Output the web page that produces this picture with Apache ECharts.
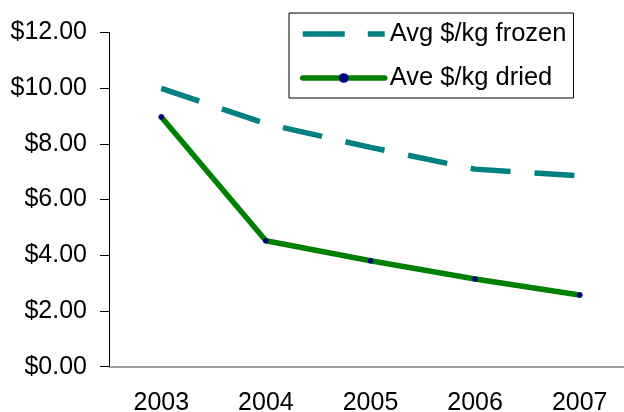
<!DOCTYPE html>
<html>
<head>
<meta charset="utf-8">
<script src="https://cdn.jsdelivr.net/npm/echarts@6/dist/echarts.min.js"></script>
<style>html,body{margin:0;padding:0;background:#fff;}#c{width:624px;height:412px;}</style>
</head>
<body>
<div id="c"></div>
<script>
var years = ['2003', '2004', '2005', '2006', '2007'];
var frozen = [9.99, 8.72, 7.87, 7.09, 6.85];
var dried = [8.96, 4.52, 3.80, 3.15, 2.57];
var yTicks = { min: 0, max: 12, interval: 2 };

var chart = echarts.init(document.getElementById('c'), null, { renderer: 'canvas' });
var font = 'Liberation Sans, Arial, sans-serif';
chart.setOption({
  animation: false,
  backgroundColor: '#fff',
  grid: { left: 109, right: -8, top: 32.3, bottom: 45.3, containLabel: false, outerBoundsMode: 'none' },
  legend: {
    orient: 'vertical',
    left: 289,
    top: 13,
    padding: [6, 7, 5, 11],
    itemGap: 14,
    itemWidth: 82,
    itemHeight: 12,
    borderColor: '#000',
    borderWidth: 1,
    backgroundColor: '#fff',
    textStyle: { fontFamily: font, fontSize: 25.5, color: '#000', lineHeight: 30 },
    data: [
      { name: 'Avg $/kg frozen', itemStyle: { opacity: 0 },
        lineStyle: { color: '#008080', width: 5.5, type: [42, 23], cap: 'butt', opacity: 1 } },
      { name: 'Ave $/kg dried', itemStyle: { color: '#000080' },
        lineStyle: { color: '#008000', width: 5.5, cap: 'round', opacity: 1 } }
    ]
  },
  xAxis: {
    type: 'category',
    data: years,
    boundaryGap: true,
    axisLine: { lineStyle: { color: '#808080', width: 1.5 } },
    axisTick: { inside: false, length: 7, lineStyle: { color: '#000' } },
    axisLabel: { fontFamily: font, fontSize: 25, color: '#000', margin: 24 },
    splitLine: { show: false }
  },
  yAxis: {
    type: 'value',
    min: yTicks.min, max: yTicks.max, interval: yTicks.interval,
    axisLine: { show: true, lineStyle: { color: '#000' } },
    axisTick: { show: true, inside: false, length: 9, lineStyle: { color: '#000' } },
    axisLabel: {
      fontFamily: font, fontSize: 25, color: '#000', margin: 22,
      formatter: function (v) { return '$' + v.toFixed(2); }
    },
    splitLine: { show: false }
  },
  series: [
    {
      name: 'Avg $/kg frozen',
      type: 'line',
      data: frozen,
      symbol: 'none',
      itemStyle: { color: '#008080' },
      lineStyle: { color: '#008080', width: 5.5, type: [40, 24], cap: 'butt' }
    },
    {
      name: 'Ave $/kg dried',
      type: 'line',
      data: dried,
      symbol: 'circle',
      symbolSize: 5.5,
      itemStyle: { color: '#000080' },
      lineStyle: { color: '#008000', width: 5.5, cap: 'round', join: 'round' }
    }
  ]
});
</script>
</body>
</html>
